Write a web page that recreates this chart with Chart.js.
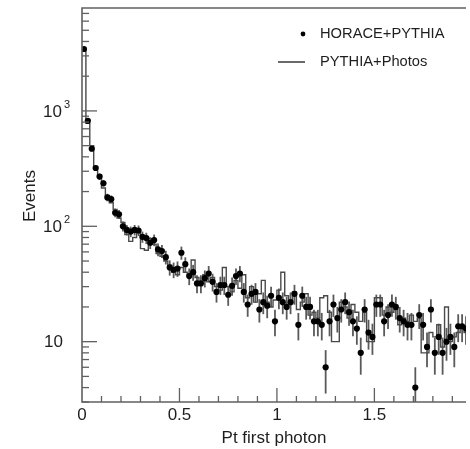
<!DOCTYPE html>
<html>
<head>
<meta charset="utf-8">
<script src="https://cdn.jsdelivr.net/npm/chart.js@4.4.0/dist/chart.umd.min.js"></script>
<style>
  html, body { margin: 0; padding: 0; background: #fff; }
</style>
</head>
<body>
<canvas id="chart" width="470" height="449"></canvas>
<script>
// bins of 0.02 in Pt, starting at 0
const binWidth = 0.02;

// HORACE+PYTHIA (points with errors)
const horace = [3440, 820, 470, 320, 270, 236, 178, 172, 131, 127,
  100, 93, 90, 93, 92, 81, 79, 72, 76, 63,
  61, 54, 44, 42, 43, 59, 47, 37, 40, 32,
  32, 35.5, 39, 33, 27, 31, 31, 25.5, 30.5, 37,
  39, 27, 21, 26, 27, 19, 22, 20.5, 25, 15,
  24, 22, 20, 22, 26, 14, 25, 20, 20, 15,
  15, 14, 6, 15, 21, 16, 19, 22, 18, 15,
  13, 8, 19, 12, 11, 21, 21, 15, 17, 21,
  20, 16, 15, 14, 14, 4, 17, 14, 9, 19,
  8, 11, 8, 10, 11, 9, 13.6, 13.6, 13];

// PYTHIA+Photos (histogram)
const pythia = [3400, 780, 500, 330, 280, 215, 185, 160, 140, 118,
  108, 85, 74, 80, 88, 64, 62, 78, 70, 58,
  55, 50, 46, 40, 38, 44, 40, 38, 51, 36,
  32, 38, 33, 36, 30, 28, 44, 30, 27, 34,
  29, 38, 24, 30, 22, 26, 34, 22, 20, 23,
  28, 40, 25, 22, 27, 19, 22, 26, 17, 18,
  16, 24, 25, 18, 10, 10, 22, 20, 16, 21,
  18, 15, 18, 10, 10, 24, 24, 17, 20, 18,
  19, 14, 16, 15, 17, 15, 16, 8, 8, 12,
  11, 14, 9, 20, 10, 11, 12, 13, 12];

const xTickLabels = ['0', '0.5', '1', '1.5'];
const yDecades = [10, 100, 1000];
const yDecadeLabels = [['10', ''], ['10', '2'], ['10', '3']];

const FONT = 'Liberation Sans, Arial, Helvetica, sans-serif';
const AXIS = '#606060';
const TEXT = '#1e1e1e';

const pointData = horace.map((v, i) => ({ x: (i + 0.5) * binWidth, y: v }));
const histData = [];
pythia.forEach((v, i) => {
  histData.push({ x: i * binWidth, y: v });
  histData.push({ x: (i + 1) * binWidth, y: v });
});

// error bars, frame, inward ticks, decade labels, legend
const decor = {
  id: 'decor',
  beforeDatasetsDraw(chart) {
    const { ctx, chartArea: a, scales: { x, y } } = chart;
    ctx.save();
    ctx.beginPath(); ctx.rect(a.left, a.top, a.right - a.left, a.bottom - a.top); ctx.clip();
    ctx.strokeStyle = '#5a5a5a'; ctx.lineWidth = 1.8;
    horace.forEach((v, i) => {
      const e = Math.sqrt(v); // poisson error
      const px = x.getPixelForValue((i + 0.5) * binWidth);
      ctx.beginPath();
      ctx.moveTo(px, y.getPixelForValue(v + e));
      ctx.lineTo(px, y.getPixelForValue(Math.max(v - e, 0.5)));
      ctx.stroke();
    });
    ctx.restore();
  },
  afterDraw(chart) {
    const { ctx, chartArea: a, scales: { x, y } } = chart;
    ctx.save();
    ctx.strokeStyle = AXIS; ctx.lineWidth = 1.6;
    ctx.beginPath();
    ctx.moveTo(a.right, a.top); ctx.lineTo(a.left, a.top);
    ctx.lineTo(a.left, a.bottom); ctx.lineTo(a.right, a.bottom);
    ctx.stroke();

    // x ticks (pointing up)
    ctx.lineWidth = 1.3;
    for (let k = 1; k < 20; k++) {
      const px = x.getPixelForValue(k / 10);
      const len = k % 5 === 0 ? 14 : 6;
      ctx.beginPath(); ctx.moveTo(px, a.bottom); ctx.lineTo(px, a.bottom - len); ctx.stroke();
    }
    // y ticks (pointing right)
    [1, 10, 100, 1000].forEach(d => {
      for (let m = 1; m <= 9; m++) {
        const v = m * d;
        if (v < y.min || v > y.max) continue;
        const py = y.getPixelForValue(v);
        const len = m === 1 ? 15 : 7;
        ctx.beginPath(); ctx.moveTo(a.left, py); ctx.lineTo(a.left + len, py); ctx.stroke();
      }
    });

    // decade labels with superscript
    ctx.fillStyle = TEXT;
    ctx.textBaseline = 'middle';
    yDecades.forEach((d, i) => {
      const py = y.getPixelForValue(d);
      const [base, sup] = yDecadeLabels[i];
      ctx.font = '17px ' + FONT;
      ctx.textAlign = 'right';
      ctx.fillText(base, sup ? 62 : 63, py + 1);
      if (sup) {
        ctx.font = '11px ' + FONT;
        ctx.textAlign = 'left';
        ctx.fillText(sup, 64, py - 6);
      }
    });

    // y title
    ctx.save();
    ctx.translate(30, 196);
    ctx.rotate(-Math.PI / 2);
    ctx.font = '17px ' + FONT;
    ctx.textAlign = 'center';
    ctx.fillText('Events', 0, 0);
    ctx.restore();

    // legend
    ctx.font = '14.7px ' + FONT;
    ctx.textAlign = 'left';
    ctx.fillStyle = '#000';
    ctx.beginPath(); ctx.arc(303, 34, 2.4, 0, Math.PI * 2); ctx.fill();
    ctx.fillStyle = TEXT;
    ctx.fillText('HORACE+PYTHIA', 320, 34);
    ctx.strokeStyle = '#444'; ctx.lineWidth = 1.6;
    ctx.beginPath(); ctx.moveTo(278, 62); ctx.lineTo(305, 62); ctx.stroke();
    ctx.fillText('PYTHIA+Photos', 320, 62);
    ctx.restore();
  }
};

new Chart(document.getElementById('chart'), {
  type: 'scatter',
  data: {
    datasets: [
      {
        label: 'PYTHIA+Photos',
        data: histData,
        showLine: true,
        borderColor: '#4a4a4a',
        borderWidth: 1.4,
        pointRadius: 0,
        tension: 0,
        fill: false,
        order: 2
      },
      {
        label: 'HORACE+PYTHIA',
        data: pointData,
        backgroundColor: '#000',
        borderWidth: 0,
        pointRadius: 3.1,
        order: 1
      }
    ]
  },
  options: {
    responsive: false,
    animation: false,
    layout: { padding: { top: 8, right: 0, left: 0, bottom: 0 } },
    plugins: { legend: { display: false }, tooltip: { enabled: false } },
    scales: {
      x: {
        type: 'linear', min: 0, max: 1.97,
        grid: { display: false, drawTicks: false },
        border: { display: false },
        ticks: {
          stepSize: 0.5, includeBounds: false, padding: 3, autoSkip: false, maxRotation: 0,
          color: TEXT, font: { size: 17, family: FONT },
          callback: (v) => xTickLabels[Math.round(v / 0.5)] || ''
        },
        title: { display: true, text: 'Pt first photon', color: TEXT, font: { size: 17, family: FONT }, padding: 0 },
        afterFit: s => { s.height = 47; }
      },
      y: {
        type: 'logarithmic', min: 3, max: 7800,
        grid: { display: false },
        border: { display: false },
        ticks: { display: false },
        afterFit: s => { s.width = 82; }
      }
    }
  },
  plugins: [decor]
});
</script>
</body>
</html>
